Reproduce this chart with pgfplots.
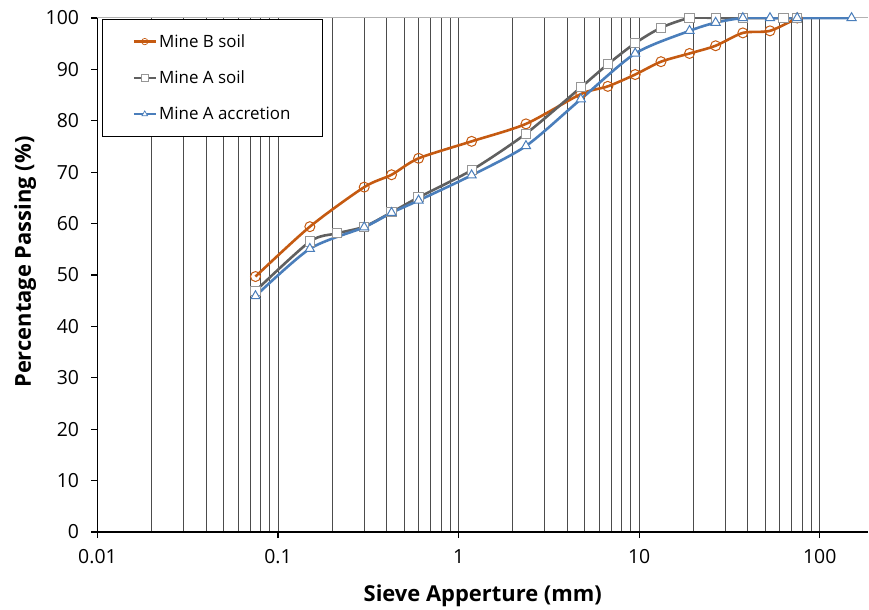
\documentclass[border=0pt]{standalone}
\usepackage{fontspec}
\setmainfont{Open Sans}
\usepackage{pgfplots}
\pgfplotsset{compat=1.18}
\definecolor{cB}{RGB}{197,90,17}
\definecolor{cA}{RGB}{96,96,96}
\definecolor{cAm}{RGB}{150,150,150}
\definecolor{cC}{RGB}{74,126,187}
\begin{document}
\begin{tikzpicture}
\useasboundingbox (-97.5bp,-78bp) rectangle (771.5bp,532bp);
\begin{axis}[
  at={(0,0)}, anchor=south west,
  scale only axis, width=770.5bp, height=514bp,
  xmode=log, xmin=0.01, xmax=185, ymin=0, ymax=100,
  axis lines*=left, axis line style={black, line width=1.6bp, -},
  xtick={0.01,0.1,1,10,100}, xticklabels={0.01,0.1,1,10,100},
  ytick={0,10,...,100},
  /pgf/number format/assume math mode=true,
  tick style={black, line width=1.2bp},
  major tick length=6bp, tick align=outside,
  minor tick length=0pt,
  xminorgrids=true, xmajorgrids=true,
  minor grid style={black!70, line width=1bp},
  major grid style={black!70, line width=1bp},
  extra y ticks={100}, extra y tick labels={},
  extra y tick style={grid=major, major grid style={gray!60, line width=1bp}, major tick length=0pt, xmajorgrids=false},
  ticklabel style={font=\fontsize{19.5}{22}\selectfont},
  xticklabel style={yshift=-8bp},
  yticklabel style={xshift=-9bp},
  xlabel={\textbf{Sieve Apperture (mm)}},
  ylabel={\textbf{Percentage Passing (\%)}},
  label style={font=\fontsize{22}{26}\selectfont},
  xlabel style={at={(axis description cs:0.5,-0.1245)}, anchor=center},
  ylabel style={at={(axis description cs:-0.094,0.525)}, anchor=center},
  legend style={at={(axis cs:0.0106,99.8)}, anchor=north west, draw=black, line width=0.8bp, fill=white,
    font=\fontsize{17}{20}\selectfont, inner xsep=30bp, inner ysep=13bp, row sep=18bp,
    legend cell align=left},
  legend image code/.code={\draw[mark repeat=2, mark phase=2, mark size=3.2bp, every mark/.append style={line width=0.7bp}] plot coordinates {(0bp,0bp) (11bp,0bp) (22bp,0bp)};},
  every axis plot/.append style={line width=2.6bp, smooth, tension=0.45},
]
\addplot[color=cB, mark=o, mark size=5bp, mark options={fill=white, line width=1bp, solid}] coordinates {
(0.075,49.7) (0.15,59.4) (0.30,67.1) (0.425,69.5) (0.6,72.7) (1.18,76.0) (2.36,79.4) (4.75,85.2) (6.7,86.7) (9.5,89.0) (13.2,91.5) (19,93.1) (26.5,94.6) (37.5,97.1) (53,97.5) (75,100)};
\addlegendentry{Mine B soil}
\addplot[color=cA, mark=square*, mark size=4.6bp, mark options={fill=white, draw=cAm, line width=1bp, solid}] coordinates {
(0.075,46.9) (0.15,56.5) (0.212,58.1) (0.30,59.4) (0.425,62.2) (0.6,65.1) (1.18,70.4) (2.36,77.5) (4.75,86.5) (6.7,91.0) (9.5,95.1) (13.2,98.1) (19,100) (26.5,100) (37.5,100) (63,100) (75,100)};
\addlegendentry{Mine A soil}
\addplot[color=cC, mark=triangle*, mark size=5.3bp, mark options={fill=white, draw=cC, line width=1bp, solid}] coordinates {
(0.075,45.9) (0.15,55.1) (0.30,59.3) (0.425,62.1) (0.6,64.5) (1.18,69.4) (2.36,75.1) (4.75,84.2) (9.5,93.1) (19,97.5) (26.5,99.1) (37.5,100) (53,100) (75,100) (150,100)};
\addlegendentry{Mine A accretion}
\end{axis}
\end{tikzpicture}
\end{document}
